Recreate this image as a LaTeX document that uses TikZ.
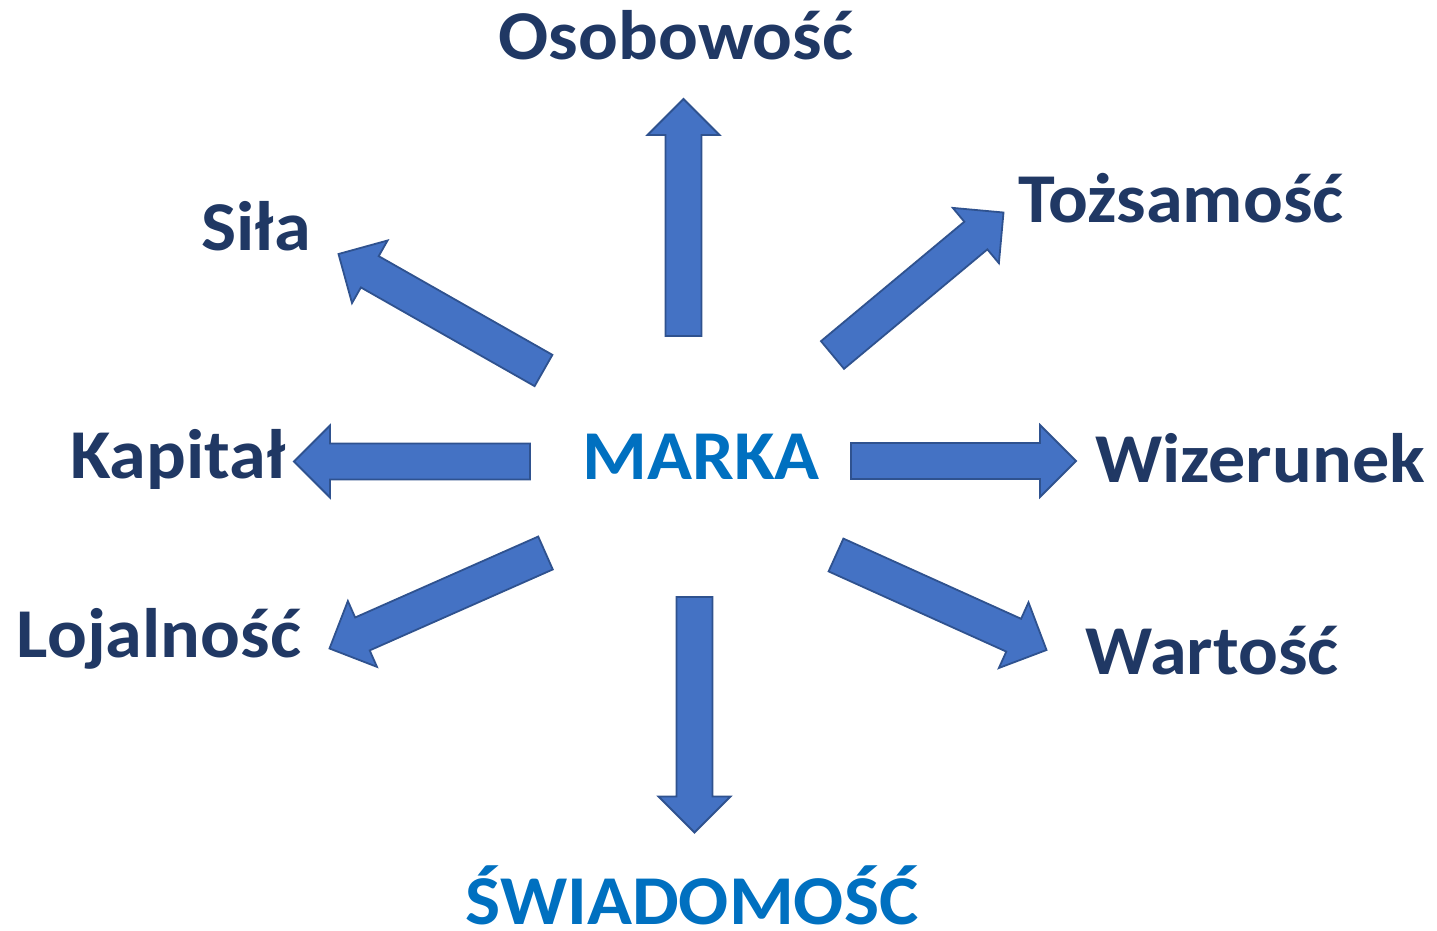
\documentclass[tikz,border=0pt]{standalone}
\usepackage{fontspec}
\setmainfont{Carlito}[FakeStretch=1.06]
\usetikzlibrary{calc}
\definecolor{arrowfill}{HTML}{4472C4}
\definecolor{arrowline}{HTML}{2F528F}
\definecolor{labeltext}{HTML}{203864}
\definecolor{keytext}{HTML}{0070C0}
\tikzset{
  blockarrow/.style={fill=arrowfill, draw=arrowline, line width=1.8pt, line join=miter},
  lbl/.style={anchor=base, inner sep=0pt, text=labeltext, font=\fontsize{70}{84}\selectfont\bfseries},
  keylbl/.style={lbl, text=keytext},
}
\newcommand\blockarr[2]{%
  \coordinate (hb) at ($(#2)!36pt!(#1)$);
  \path[blockarrow] ($(#1)!18pt!90:(#2)$) -- ($(hb)!18pt!90:(#2)$) -- ($(hb)!36pt!90:(#2)$) -- (#2)
    -- ($(hb)!36pt!-90:(#2)$) -- ($(hb)!18pt!-90:(#2)$) -- ($(#1)!18pt!-90:(#2)$) -- cycle;
}
\begin{document}
\begin{tikzpicture}[x=1pt,y=-1pt]
\useasboundingbox (0,0) rectangle (1437,931);
% labels
\node[keylbl] (marka) at (701,479) {MARKA};
\node[lbl] (osob) at (676,60) {Osobowość};
\node[lbl] (sila) at (256,250) {Siła};
\node[lbl] (tozs) at (1181,222) {Tożsamość};
\node[lbl] (kapital) at (178,478) {Kapitał};
\node[lbl] (wiz) at (1260,482) {Wizerunek};
\node[lbl] (loj) at (159,657) {Lojalność};
\node[lbl] (wart) at (1212,674) {Wartość};
\node[keylbl] (swiad) at (692,924) {ŚWIADOMOŚĆ};
% arrow ends
\coordinate (upA) at (683.5,336);   \coordinate (upB) at (683.5,99);
\coordinate (dnA) at (694.5,597);   \coordinate (dnB) at (694.5,832.5);
\coordinate (rtA) at (851,461);     \coordinate (rtB) at (1076,461);
\coordinate (ltA) at (530,461.5);   \coordinate (ltB) at (294,461.5);
\coordinate (ulA) at (543.5,370.5); \coordinate (ulB) at (338.5,254);
\coordinate (urA) at (832.5,355);   \coordinate (urB) at (1003.5,212.5);
\coordinate (llA) at (545.5,553);   \coordinate (llB) at (329.5,648.5);
\coordinate (lrA) at (836,555);     \coordinate (lrB) at (1046.5,650);
\blockarr{upA}{upB}
\blockarr{dnA}{dnB}
\blockarr{rtA}{rtB}
\blockarr{ltA}{ltB}
\blockarr{ulA}{ulB}
\blockarr{urA}{urB}
\blockarr{llA}{llB}
\blockarr{lrA}{lrB}
\end{tikzpicture}
\end{document}
